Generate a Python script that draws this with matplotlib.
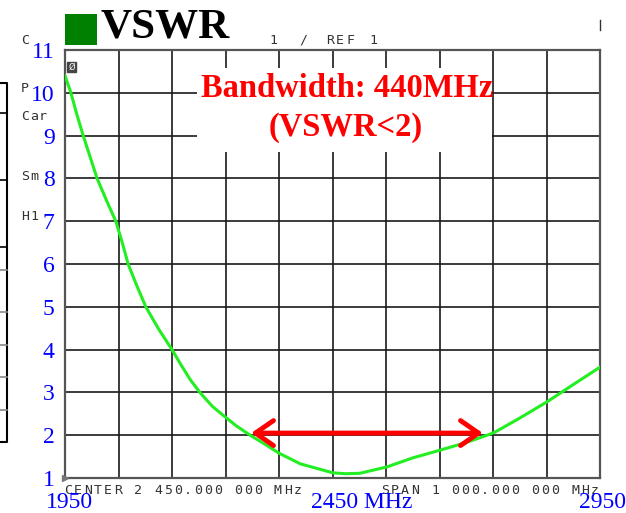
import matplotlib
matplotlib.use("Agg")
import matplotlib.pyplot as plt
from matplotlib.lines import Line2D
from matplotlib.patches import Rectangle

# VSWR trace (MHz, VSWR)
freq = [1950, 1961, 1972, 1984, 1997, 2010, 2027, 2045, 2057, 2068, 2084, 2101,
        2125, 2150, 2168, 2184, 2202, 2225, 2245, 2270, 2296, 2325, 2350, 2390,
        2451, 2475, 2501, 2552, 2600, 2651, 2700, 2739, 2752, 2800, 2851, 2907, 2950]
vswr = [10.4, 10.0, 9.5, 9.0, 8.5, 8.0, 7.5, 7.0, 6.5, 6.0, 5.5, 5.0,
        4.48, 4.0, 3.62, 3.3, 3.0, 2.68, 2.47, 2.22, 2.0, 1.78, 1.58, 1.33,
        1.12, 1.1, 1.11, 1.26, 1.47, 1.65, 1.83, 2.0, 2.06, 2.40, 2.78, 3.24, 3.59]

yticks = list(range(1, 12))
xgrid = list(range(1950, 2951, 100))
band_lo, band_hi, band_level = 2298, 2731, 2.05
x_labels = ["1950", "2450 MHz", "2950"]
side_labels = ["C", "P", "Car", "Sm", "H1"]

W, H = 626, 513
def px(x, y):
    return x / W, 1 - y / H

fig = plt.figure(figsize=(6.26, 5.13), dpi=100)
ax = fig.add_axes([65 / W, 35 / H, 535 / W, 428 / H])
ax.set_xlim(1950, 2950)
ax.set_ylim(1, 11)
ax.set_xticks(xgrid)
ax.set_xticklabels([])
ax.set_yticks(yticks)
ax.set_yticklabels([str(t) for t in yticks], color="blue",
                   family="Liberation Serif", fontsize=17)
ax.tick_params(length=0, axis="y", pad=7.5)
ax.tick_params(length=0, axis="x")
ax.grid(True, color="#1a1a1a", lw=1.2)
ax.set_axisbelow(True)
for s in ax.spines.values():
    s.set_color("#555555")
    s.set_linewidth(1.6)

# white label box over the grid
ax.add_patch(Rectangle((2197, 8.62), 2748 - 2197, 10.58 - 8.62,
                       facecolor="white", edgecolor="none", zorder=2))

ax.plot(freq, vswr, color="#22ee22", lw=2.2, zorder=3)
ax.plot([1950], [1], marker=">", ms=4, color="#777777", clip_on=False, zorder=3)
ax.text(1962, 10.6, "Ø", fontsize=6, color="white", ha="center", va="center",
        bbox=dict(boxstyle="square,pad=0.1", fc="#444444", ec="#444444"))

ax.annotate("", xy=(band_lo, band_level), xytext=(band_hi, band_level),
            arrowprops=dict(arrowstyle="<->,head_length=0.65,head_width=0.45",
                            color="red", lw=3.5, shrinkA=0, shrinkB=0,
                            mutation_scale=20), zorder=4)

ax.text(2477, 10.09, "Bandwidth: 440MHz", color="red", fontsize=23.5,
        fontweight="bold", family="Liberation Serif", ha="center", va="center", zorder=5)
ax.text(2474, 9.18, "(VSWR<2)", color="red", fontsize=23.5,
        fontweight="bold", family="Liberation Serif", ha="center", va="center", zorder=5)

# title with green square
fig.patches.append(Rectangle(px(65, 45), 32 / W, 31 / H, facecolor="#008000",
                             transform=fig.transFigure, figure=fig))
fig.text(*px(101, 28), "VSWR", fontsize=31, fontweight="bold",
         family="Liberation Serif", ha="left", va="center")

# analyser annotations (monospace screen text)
def mono(s, x0, y, dx=10):
    for i, ch in enumerate(s):
        fig.text(*px(x0 + i * dx + 5, y), ch, family="DejaVu Sans Mono",
                 fontsize=9.5, color="#333333", ha="center", va="center")

mono("CENTER 2 450.000 000 MHz", 63, 490)
mono("SPAN 1 000.000 000 MHz", 380, 490)
for s, x in [("1", 268), ("/", 298), ("REF", 325), ("1", 368)]:
    mono(s, x, 40)
for s, y in zip(side_labels, [40, 88, 117, 176, 217]):
    mono(s, 20, y, dx=9)
fig.add_artist(Line2D([600 / W, 600 / W], [1 - 20 / H, 1 - 30 / H], color="#333333", lw=1))

# cut-off side panel on the left
fig.add_artist(Line2D([0, 7 / W, 7 / W, 0], [1 - 83 / H, 1 - 83 / H, 1 - 442 / H, 1 - 442 / H],
                      color="black", lw=1.5))
for y, c in [(113, "black"), (180, "black"), (247, "black"), (270, "#888888"),
             (312, "#888888"), (345, "#888888"), (377, "#888888"), (410, "#888888")]:
    fig.add_artist(Line2D([0, 7 / W], [1 - y / H, 1 - y / H], color=c, lw=1.2))

# blue frequency labels
for s, x in zip(x_labels, [69, 362, 602]):
    fig.text(*px(x, 503), s, color="blue", family="Liberation Serif",
             fontsize=17, ha="center", va="center")

fig.savefig("out.png", dpi=100)
